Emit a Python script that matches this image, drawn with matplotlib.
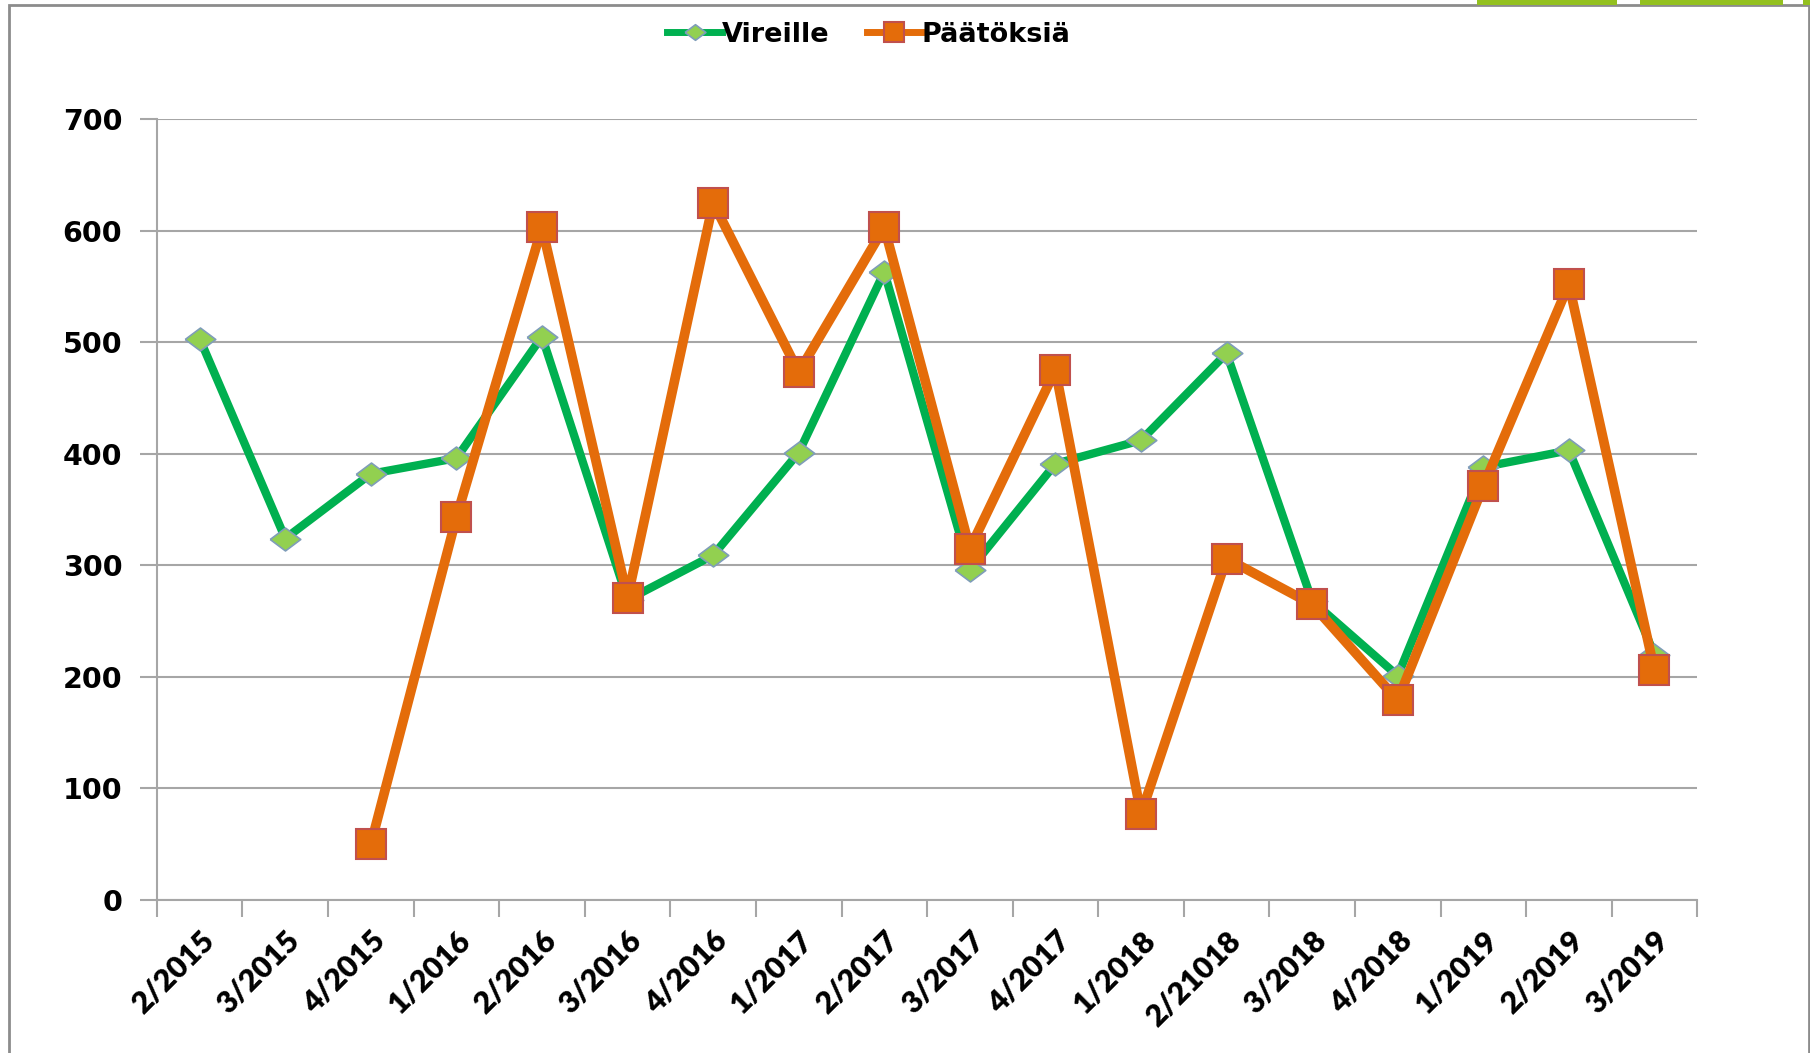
import numpy as np
import matplotlib
matplotlib.use("Agg")
import matplotlib.pyplot as plt
from matplotlib.patches import Rectangle

# quarters on the x axis (label typo kept as in the source chart)
quarters = ["2/2015", "3/2015", "4/2015", "1/2016", "2/2016", "3/2016",
            "4/2016", "1/2017", "2/2017", "3/2017", "4/2017", "1/2018",
            "2/21018", "3/2018", "4/2018", "1/2019", "2/2019", "3/2019"]
vireille = [503, 324, 382, 396, 505, 269, 309, 401, 563, 296, 391, 412,
            490, 268, 201, 388, 403, 220]
# decisions start from 4/2015
paatoksia = [np.nan, np.nan, 50, 343, 603, 271, 625, 473, 603, 315, 475, 77,
             306, 265, 179, 371, 552, 206]
y_ticks = [0, 100, 200, 300, 400, 500, 600, 700]

GREEN, GREEN_FILL, GREEN_EDGE = "#00B050", "#92D050", "#7F9DB9"
ORANGE, ORANGE_EDGE = "#E46C0A", "#C0504D"
GRID = "#A6A6A6"

fig = plt.figure(figsize=(18.10, 10.53), dpi=100)
ax = fig.add_axes([0.0867, 0.1453, 0.851, 0.7417])

x = np.arange(len(quarters))
diamond = [(-1, 0), (0, 0.75), (1, 0), (0, -0.75), (-1, 0)]
ax.plot(x, vireille, color=GREEN, lw=6, marker=diamond, ms=22,
        mfc=GREEN_FILL, mec=GREEN_EDGE, mew=1.2, label="Vireille", zorder=3)
ax.plot(x, paatoksia, color=ORANGE, lw=7, marker="s", ms=21,
        mfc=ORANGE, mec=ORANGE_EDGE, mew=1.5, label="Päätöksiä", zorder=4)

ax.set_xlim(-0.5, len(quarters) - 0.5)
ax.set_ylim(0, 700)
ax.set_yticks(y_ticks)
ax.set_yticklabels([str(v) for v in y_ticks], fontsize=20.5,
                   fontweight="bold", family="DejaVu Sans")
ax.set_xticks(x)
ax.set_xticklabels(quarters, rotation=45, ha="right", rotation_mode="anchor",
                   fontsize=22, fontweight="heavy", family="Lato")
ax.set_xticks(np.arange(len(quarters) + 1) - 0.5, minor=True)
ax.tick_params(axis="x", which="major", length=0, pad=19)
ax.tick_params(axis="x", which="minor", length=12, width=1.5, color=GRID)
ax.tick_params(axis="y", length=12, width=1.5, color=GRID, pad=13)

ax.yaxis.grid(True, color=GRID, lw=1.5)
ax.set_axisbelow(True)
for side in ("top", "right"):
    ax.spines[side].set_visible(False)
for side in ("left", "bottom"):
    ax.spines[side].set_color(GRID)
    ax.spines[side].set_linewidth(1.5)

leg = fig.legend(loc="center", bbox_to_anchor=(0.48, 0.967), ncol=2,
                 frameon=False, handlelength=2.0, handletextpad=0.0,
                 columnspacing=1.4, prop={"family": "DejaVu Sans",
                                          "weight": "bold", "size": 19.5})
for h in leg.legend_handles:
    h.set_markersize(15)
    h.set_linewidth(5)

# outer frame and the green decoration peeking in at the top right
fig.patches.append(Rectangle((9 / 1810, -0.05), 1800 / 1810, 1.05 - 5 / 1053,
                             transform=fig.transFigure, fill=False,
                             ec="#8C8C8C", lw=2))
for x0, w in [(1477, 140), (1640, 143), (1803, 7)]:
    fig.patches.append(Rectangle((x0 / 1810, 1 - 5 / 1053), w / 1810, 5 / 1053,
                                 transform=fig.transFigure, fc="#93C01F",
                                 ec="none"))

fig.savefig("out.png", dpi=100)
